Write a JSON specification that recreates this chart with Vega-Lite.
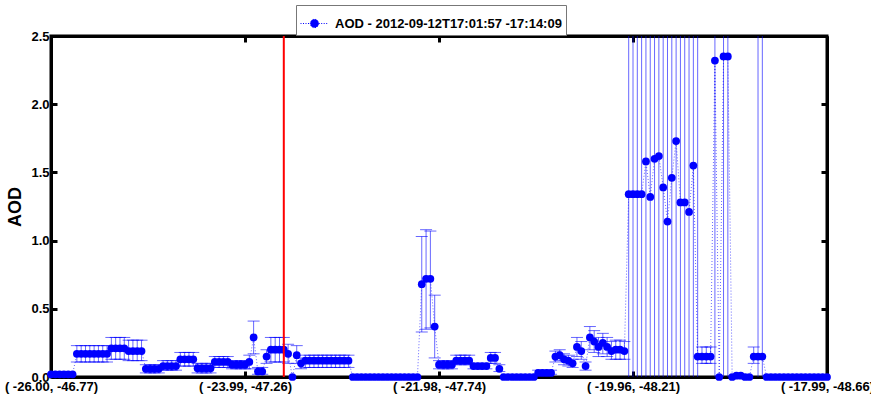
{
  "$schema": "https://vega.github.io/schema/vega-lite/v6.json",
  "width": 776,
  "height": 341,
  "autosize": {"type": "none"},
  "padding": {"left": 51, "top": 36, "right": 44, "bottom": 21},
  "background": "white",
  "config": {
    "view": {"stroke": "black", "strokeWidth": 3},
    "font": "Liberation Sans",
    "axis": {
      "domainColor": "black", "domainWidth": 3, "tickColor": "black", "tickWidth": 3, "tickSize": -6,
      "grid": false, "labelFont": "Liberation Sans", "labelFontWeight": "bold", "labelFontSize": 13,
      "labelColor": "black", "titleFont": "Liberation Sans", "titleFontWeight": "bold", "titleColor": "black"
    }
  },
  "datasets": {
    "aod": [
      {"i":0,"aod":0.02},{"i":1,"aod":0.02},{"i":2,"aod":0.02},{"i":3,"aod":0.02},{"i":4,"aod":0.02},{"i":5,"aod":0.02},
      {"i":6,"aod":0.17,"lo":0.11,"hi":0.23},{"i":7,"aod":0.17,"lo":0.11,"hi":0.23},{"i":8,"aod":0.17,"lo":0.11,"hi":0.23},{"i":9,"aod":0.17,"lo":0.11,"hi":0.23},
      {"i":10,"aod":0.17,"lo":0.11,"hi":0.23},{"i":11,"aod":0.17,"lo":0.11,"hi":0.23},{"i":12,"aod":0.17,"lo":0.11,"hi":0.23},{"i":13,"aod":0.17,"lo":0.11,"hi":0.23},
      {"i":14,"aod":0.21,"lo":0.13,"hi":0.29},{"i":15,"aod":0.21,"lo":0.13,"hi":0.29},{"i":16,"aod":0.21,"lo":0.13,"hi":0.29},{"i":17,"aod":0.21,"lo":0.13,"hi":0.29},
      {"i":18,"aod":0.19,"lo":0.12,"hi":0.27},{"i":19,"aod":0.19,"lo":0.12,"hi":0.27},{"i":20,"aod":0.19,"lo":0.12,"hi":0.27},{"i":21,"aod":0.19,"lo":0.12,"hi":0.27},
      {"i":22,"aod":0.06,"lo":0.03,"hi":0.09},{"i":23,"aod":0.06,"lo":0.03,"hi":0.09},{"i":24,"aod":0.06,"lo":0.03,"hi":0.09},{"i":25,"aod":0.06,"lo":0.03,"hi":0.09},
      {"i":26,"aod":0.08,"lo":0.05,"hi":0.12},{"i":27,"aod":0.08,"lo":0.05,"hi":0.12},{"i":28,"aod":0.08,"lo":0.05,"hi":0.12},{"i":29,"aod":0.08,"lo":0.05,"hi":0.12},
      {"i":30,"aod":0.13,"lo":0.08,"hi":0.18},{"i":31,"aod":0.13,"lo":0.08,"hi":0.18},{"i":32,"aod":0.13,"lo":0.08,"hi":0.18},{"i":33,"aod":0.13,"lo":0.08,"hi":0.18},
      {"i":34,"aod":0.065,"lo":0.03,"hi":0.1},{"i":35,"aod":0.065,"lo":0.03,"hi":0.1},{"i":36,"aod":0.065,"lo":0.03,"hi":0.1},{"i":37,"aod":0.065,"lo":0.03,"hi":0.1},
      {"i":38,"aod":0.11,"lo":0.07,"hi":0.15},{"i":39,"aod":0.11,"lo":0.07,"hi":0.15},{"i":40,"aod":0.11,"lo":0.07,"hi":0.15},{"i":41,"aod":0.11,"lo":0.07,"hi":0.15},
      {"i":42,"aod":0.09,"lo":0.06,"hi":0.12},{"i":43,"aod":0.09,"lo":0.06,"hi":0.12},{"i":44,"aod":0.09,"lo":0.06,"hi":0.12},{"i":45,"aod":0.09,"lo":0.06,"hi":0.12},
      {"i":46,"aod":0.11,"lo":0.06,"hi":0.16},{"i":47,"aod":0.29,"lo":0.17,"hi":0.41},{"i":48,"aod":0.04,"lo":0.02,"hi":0.07},{"i":49,"aod":0.04,"lo":0.02,"hi":0.07},
      {"i":50,"aod":0.15,"lo":0.1,"hi":0.2},{"i":51,"aod":0.2,"lo":0.11,"hi":0.29},{"i":52,"aod":0.2,"lo":0.11,"hi":0.29},{"i":53,"aod":0.2,"lo":0.11,"hi":0.29},
      {"i":54,"aod":0.2,"lo":0.11,"hi":0.29},{"i":55,"aod":0.17,"lo":0.1,"hi":0.24},{"i":56,"aod":0.0},{"i":57,"aod":0.16,"lo":0.1,"hi":0.23},{"i":58,"aod":0.1,"lo":0.06,"hi":0.14},
      {"i":59,"aod":0.12,"lo":0.07,"hi":0.16},{"i":60,"aod":0.12,"lo":0.07,"hi":0.16},{"i":61,"aod":0.12,"lo":0.07,"hi":0.16},{"i":62,"aod":0.12,"lo":0.07,"hi":0.16},
      {"i":63,"aod":0.12,"lo":0.07,"hi":0.16},{"i":64,"aod":0.12,"lo":0.07,"hi":0.16},{"i":65,"aod":0.12,"lo":0.07,"hi":0.16},{"i":66,"aod":0.12,"lo":0.07,"hi":0.16},
      {"i":67,"aod":0.12,"lo":0.07,"hi":0.16},{"i":68,"aod":0.12,"lo":0.07,"hi":0.16},{"i":69,"aod":0.12,"lo":0.07,"hi":0.16},
      {"i":70,"aod":0},{"i":71,"aod":0},{"i":72,"aod":0},{"i":73,"aod":0},{"i":74,"aod":0},{"i":75,"aod":0},{"i":76,"aod":0},{"i":77,"aod":0},
      {"i":78,"aod":0},{"i":79,"aod":0},{"i":80,"aod":0},{"i":81,"aod":0},{"i":82,"aod":0},{"i":83,"aod":0},{"i":84,"aod":0},{"i":85,"aod":0},
      {"i":86,"aod":0.68,"lo":0.33,"hi":1.03},{"i":87,"aod":0.72,"lo":0.35,"hi":1.08},{"i":88,"aod":0.72,"lo":0.36,"hi":1.07},{"i":89,"aod":0.37,"lo":0.14,"hi":0.6},
      {"i":90,"aod":0.09,"lo":0.06,"hi":0.12},{"i":91,"aod":0.09,"lo":0.06,"hi":0.12},{"i":92,"aod":0.09,"lo":0.06,"hi":0.12},{"i":93,"aod":0.09,"lo":0.06,"hi":0.12},
      {"i":94,"aod":0.12,"lo":0.09,"hi":0.16},{"i":95,"aod":0.12,"lo":0.09,"hi":0.16},{"i":96,"aod":0.12,"lo":0.09,"hi":0.16},{"i":97,"aod":0.12,"lo":0.09,"hi":0.16},
      {"i":98,"aod":0.08,"lo":0.06,"hi":0.1},{"i":99,"aod":0.08,"lo":0.06,"hi":0.1},{"i":100,"aod":0.08,"lo":0.06,"hi":0.1},{"i":101,"aod":0.08,"lo":0.06,"hi":0.1},
      {"i":102,"aod":0.14,"lo":0.1,"hi":0.18},{"i":103,"aod":0.14,"lo":0.1,"hi":0.18},{"i":104,"aod":0.06,"lo":0.04,"hi":0.09},
      {"i":105,"aod":0},{"i":106,"aod":0},{"i":107,"aod":0},{"i":108,"aod":0},{"i":109,"aod":0},{"i":110,"aod":0},{"i":111,"aod":0},{"i":112,"aod":0},
      {"i":113,"aod":0.03,"lo":0.02,"hi":0.05},{"i":114,"aod":0.03,"lo":0.02,"hi":0.05},{"i":115,"aod":0.03,"lo":0.02,"hi":0.05},{"i":116,"aod":0.03,"lo":0.02,"hi":0.05},
      {"i":117,"aod":0.15,"lo":0.11,"hi":0.19},{"i":118,"aod":0.16,"lo":0.12,"hi":0.2},{"i":119,"aod":0.13,"lo":0.09,"hi":0.17},{"i":120,"aod":0.12,"lo":0.08,"hi":0.16},
      {"i":121,"aod":0.1,"lo":0.07,"hi":0.13},{"i":122,"aod":0.22,"lo":0.15,"hi":0.29},{"i":123,"aod":0.19,"lo":0.13,"hi":0.26},{"i":124,"aod":0.08,"lo":0.05,"hi":0.11},
      {"i":125,"aod":0.29,"lo":0.2,"hi":0.37},{"i":126,"aod":0.26,"lo":0.18,"hi":0.34},{"i":127,"aod":0.22,"lo":0.15,"hi":0.29},{"i":128,"aod":0.25,"lo":0.17,"hi":0.32},
      {"i":129,"aod":0.22,"lo":0.15,"hi":0.29},{"i":130,"aod":0.19,"lo":0.13,"hi":0.26},{"i":131,"aod":0.2,"lo":0.13,"hi":0.27},{"i":132,"aod":0.2,"lo":0.13,"hi":0.27},
      {"i":133,"aod":0.19,"lo":0.13,"hi":0.26},
      {"i":134,"aod":1.34,"lo":-0.5,"hi":3.5},{"i":135,"aod":1.34,"lo":-0.5,"hi":3.5},{"i":136,"aod":1.34,"lo":-0.5,"hi":3.5},{"i":137,"aod":1.34,"lo":-0.5,"hi":3.5},
      {"i":138,"aod":1.58,"lo":-0.5,"hi":3.5},{"i":139,"aod":1.32,"lo":-0.5,"hi":3.5},{"i":140,"aod":1.6,"lo":-0.5,"hi":3.5},{"i":141,"aod":1.62,"lo":-0.5,"hi":3.5},
      {"i":142,"aod":1.39,"lo":-0.5,"hi":3.5},{"i":143,"aod":1.14,"lo":-0.5,"hi":3.5},{"i":144,"aod":1.46,"lo":-0.5,"hi":3.5},{"i":145,"aod":1.73,"lo":-0.5,"hi":3.5},
      {"i":146,"aod":1.28,"lo":-0.5,"hi":3.5},{"i":147,"aod":1.28,"lo":-0.5,"hi":3.5},{"i":148,"aod":1.21,"lo":-0.5,"hi":3.5},{"i":149,"aod":1.55,"lo":-0.5,"hi":3.5},
      {"i":150,"aod":0.15,"lo":-0.5,"hi":3.5},{"i":151,"aod":0.15,"lo":0.1,"hi":0.22},{"i":152,"aod":0.15,"lo":0.1,"hi":0.22},{"i":153,"aod":0.15,"lo":0.1,"hi":0.22},
      {"i":154,"aod":2.32,"lo":-0.5,"hi":3.5},{"i":155,"aod":0},{"i":156,"aod":2.35,"lo":-0.5,"hi":3.5},{"i":157,"aod":2.35,"lo":-0.5,"hi":3.5},
      {"i":158,"aod":0},{"i":159,"aod":0.01},{"i":160,"aod":0.01},{"i":161,"aod":0},{"i":162,"aod":0},
      {"i":163,"aod":0.15,"lo":0.1,"hi":0.22},{"i":164,"aod":0.15,"lo":-0.5,"hi":3.5},{"i":165,"aod":0.15,"lo":-0.5,"hi":3.5},
      {"i":166,"aod":0},{"i":167,"aod":0},{"i":168,"aod":0},{"i":169,"aod":0},{"i":170,"aod":0},{"i":171,"aod":0},{"i":172,"aod":0},{"i":173,"aod":0},
      {"i":174,"aod":0},{"i":175,"aod":0},{"i":176,"aod":0},{"i":177,"aod":0},{"i":178,"aod":0},{"i":179,"aod":0},{"i":180,"aod":0}
    ],
    "marker": [{"i": 54}]
  },
  "layer": [
    {
      "data": {"name": "aod"},
      "transform": [{"filter": "datum.lo != null"}],
      "mark": {"type": "rule", "color": "#0000ff", "opacity": 0.6, "strokeWidth": 1, "clip": true},
      "encoding": {
        "x": {"field": "i", "type": "quantitative", "scale": {"domain": [0, 180], "nice": false, "zero": false},
          "axis": {"orient": "bottom", "title": null, "values": [0, 45, 90, 135, 180], "labelPadding": 9,
            "labelOverlap": false, "labelBound": false, "labelFlush": false,
            "labelExpr": "datum.value == 0 ? '( -26.00, -46.77)' : datum.value == 45 ? '( -23.99, -47.26)' : datum.value == 90 ? '( -21.98, -47.74)' : datum.value == 135 ? '( -19.96, -48.21)' : '( -17.99, -48.66)'"}},
        "y": {"field": "lo", "type": "quantitative", "scale": {"domain": [0, 2.5], "nice": false},
          "axis": {"orient": "left", "title": "AOD", "titleFontSize": 18, "titlePadding": 6, "values": [0, 0.5, 1, 1.5, 2, 2.5], "labelPadding": 8, "labelFlush": false}},
        "y2": {"field": "hi"}
      }
    },
    {
      "data": {"name": "aod"},
      "transform": [{"filter": "datum.lo != null"}],
      "mark": {"type": "tick", "orient": "horizontal", "color": "#0000ff", "opacity": 0.6, "size": 12, "thickness": 1, "clip": true},
      "encoding": {
        "x": {"field": "i", "type": "quantitative", "axis": null},
        "y": {"field": "lo", "type": "quantitative", "axis": null}
      }
    },
    {
      "data": {"name": "aod"},
      "transform": [{"filter": "datum.lo != null"}],
      "mark": {"type": "tick", "orient": "horizontal", "color": "#0000ff", "opacity": 0.6, "size": 12, "thickness": 1, "clip": true},
      "encoding": {
        "x": {"field": "i", "type": "quantitative", "axis": null},
        "y": {"field": "hi", "type": "quantitative", "axis": null}
      }
    },
    {
      "data": {"name": "aod"},
      "mark": {"type": "line", "color": "#0000ff", "opacity": 0.6, "strokeWidth": 1, "strokeDash": [1, 2]},
      "encoding": {
        "x": {"field": "i", "type": "quantitative", "axis": null},
        "y": {"field": "aod", "type": "quantitative", "axis": null}
      }
    },
    {
      "data": {"name": "aod"},
      "mark": {"type": "point", "shape": "circle", "filled": true, "size": 60, "opacity": 1},
      "encoding": {
        "x": {"field": "i", "type": "quantitative", "axis": null},
        "y": {"field": "aod", "type": "quantitative", "axis": null},
        "color": {"datum": "AOD - 2012-09-12T17:01:57 -17:14:09", "type": "nominal",
          "scale": {"range": ["#0000ff"]},
          "legend": {"orient": "none", "legendX": 245, "legendY": -31, "title": null,
            "strokeColor": "#777777", "fillColor": "white", "padding": 4,
            "symbolType": "M -1 0 L -0.3 0 M 0.3 0 L 1 0 M 0.3 0 A 0.3 0.3 0 1 1 -0.3 0 A 0.3 0.3 0 1 1 0.3 0 Z",
            "symbolSize": 784, "symbolStrokeWidth": 1, "symbolFillColor": "#0000ff", "symbolStrokeColor": "#0000ff", "symbolDash": [1, 1.5],
            "labelFont": "Liberation Sans", "labelFontWeight": "bold", "labelFontSize": 13, "labelColor": "black", "labelOffset": 6, "labelLimit": 500}}
      }
    },
    {
      "data": {"name": "marker"},
      "mark": {"type": "rule", "color": "#ff0000", "strokeWidth": 2},
      "encoding": {
        "x": {"field": "i", "type": "quantitative", "axis": {"orient": "top", "labels": false, "title": null, "values": [0, 45, 90, 135, 180]}},
        "y": {"datum": 0, "type": "quantitative", "axis": {"orient": "right", "labels": false, "title": null, "values": [0, 0.5, 1, 1.5, 2, 2.5]}},
        "y2": {"datum": 2.5}
      }
    }
  ],
  "resolve": {"axis": {"x": "independent", "y": "independent"}}
}
